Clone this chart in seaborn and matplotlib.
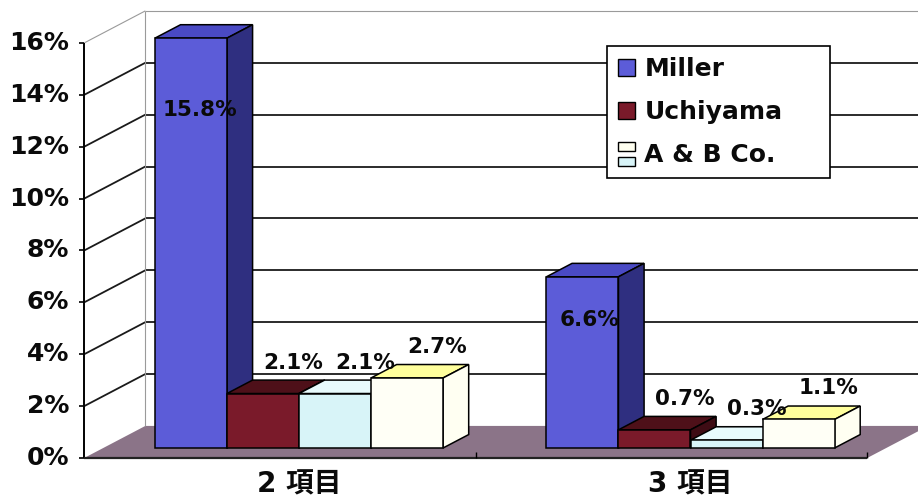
import matplotlib
matplotlib.use("Agg")
import matplotlib.pyplot as plt
import matplotlib.colors as mcolors
from matplotlib.patches import Polygon, Rectangle, Patch
from matplotlib.legend_handler import HandlerBase
import pandas as pd
import seaborn as sns

# ---- data -------------------------------------------------------------
categories = ["2 項目", "3 項目"]
series_names = ["Miller", "Uchiyama", "A & B Co. 1", "A & B Co. 2"]
miller = [15.8, 6.6]
uchiyama = [2.1, 0.7]
ab_co_1 = [2.1, 0.3]
ab_co_2 = [2.7, 1.1]
legend_labels = ["Miller", "Uchiyama", "A & B Co."]
y_ticks = [0, 2, 4, 6, 8, 10, 12, 14, 16]

# ---- styling ----------------------------------------------------------
front_colors = {"Miller": "#5c5cd8", "Uchiyama": "#7a1a2a",
                "A & B Co. 1": "#d8f4f8", "A & B Co. 2": "#fffff6"}
top_colors = {"Miller": "#4a4ac4", "Uchiyama": "#4e1019",
              "A & B Co. 1": "#e8fbfd", "A & B Co. 2": "#ffff9c"}
side_colors = {"Miller": "#2f2f80", "Uchiyama": "#3e0c14",
               "A & B Co. 1": "#c4e6ee", "A & B Co. 2": "#fffff2"}
floor_color = "#8b7488"
text_color = "#0a0a0a"

sns.set_style("white")
plt.rcParams["font.family"] = ["DejaVu Sans", "Noto Sans CJK JP"]

rows = []
for name, vals in zip(series_names, [miller, uchiyama, ab_co_1, ab_co_2]):
    for cat, v in zip(categories, vals):
        rows.append({"category": cat, "series": name, "value": v})
df = pd.DataFrame(rows)

W, H = 918, 501
fig = plt.figure(figsize=(W / 100, H / 100), dpi=100)
ax = fig.add_axes([0, 0, 1, 1])

sns.barplot(data=df, x="category", y="value", hue="series",
            hue_order=series_names, order=categories,
            palette=front_colors, width=0.736, saturation=1,
            edgecolor="black", linewidth=1.1, legend=False, ax=ax)

# pixel-aligned data window: one category = 391.5 px, 1 % = 25.94 px
PX_X, PX_Y = 391.5, 25.94
ax.set_xlim(-299 / PX_X, (W - 299) / PX_X)
ax.set_ylim((448 - H) / PX_Y, 448 / PX_Y)
ax.set_axis_off()

# oblique depth: bars' front plane at Z0, back wall at depth 1
Z0, ZB = 0.31, 0.42
DX, DY = 61 / PX_X, 32 / PX_Y


def proj(x, y, z):
    return (x + (z - Z0) * DX, y + (z - Z0) * DY)


def seg(p, q, **kw):
    ax.plot([p[0], q[0]], [p[1], q[1]], solid_capstyle="butt", **kw)


ymax = y_ticks[-1]
xl, xr = -0.5, 1.5

# floor
ax.add_patch(Polygon([proj(xl, 0, 0), proj(xr, 0, 0), proj(xr, 0, 1), proj(xl, 0, 1)],
                     closed=True, fc=floor_color, ec="none", zorder=2))

# walls: back gridlines, side wall diagonals
for v in y_ticks[1:]:
    top_edge = v == ymax
    kw = dict(color="#9a9a9a" if top_edge else "#1a1a1a",
              lw=0.8 if top_edge else 1.3, zorder=3)
    seg(proj(xl, v, 1), proj(xr + 0.2, v, 1), **kw)
    seg(proj(xl, v, 0), proj(xl, v, 1), **kw)
seg(proj(xl, 0, 1), proj(xl, ymax, 1), color="#9a9a9a", lw=0.8, zorder=3)

# front axes
seg(proj(xl, 0, 0), proj(xl, ymax, 0), color="black", lw=1.4, zorder=4)
seg(proj(xl, 0, 0), proj(xr, 0, 0), color="#222222", lw=1.6, zorder=4)
for v in y_ticks:
    p = proj(xl, v, 0)
    seg((p[0] - 5 / PX_X, p[1]), p, color="black", lw=1.2, zorder=4)
    ax.text(p[0] - 15 / PX_X, p[1], f"{v}%", ha="right", va="center",
            fontsize=18, fontweight="bold", color=text_color)
for xv in [0.5, 1.5]:
    p = proj(xv, 0, 0)
    seg(p, (p[0], p[1] + 6 / PX_Y), color="black", lw=1.0, zorder=4)

for i, cat in enumerate(categories):
    ax.text(i, (448 - 484) / PX_Y, cat, ha="center", va="center",
            fontsize=20, fontweight="bold", color=text_color,
            family=["DejaVu Sans", "Noto Sans CJK JP"])

# 3D faces for every bar drawn by seaborn
hex_to_series = {mcolors.to_hex(c): s for s, c in front_colors.items()}
bars = [p for p in ax.patches if isinstance(p, Rectangle)
        and mcolors.to_hex(p.get_facecolor()) in hex_to_series]
bars.sort(key=lambda p: p.get_x())
sx, sy = ZB * DX, ZB * DY
for r, b in enumerate(bars):
    s = hex_to_series[mcolors.to_hex(b.get_facecolor())]
    x0, w, h = b.get_x(), b.get_width(), b.get_height()
    x1 = x0 + w
    b.set_zorder(10 + 2 * r + 1)
    ax.add_patch(Polygon([(x0, h), (x1, h), (x1 + sx, h + sy), (x0 + sx, h + sy)],
                         closed=True, fc=top_colors[s], ec="black", lw=1.1,
                         zorder=10 + 2 * r))
    ax.add_patch(Polygon([(x1, 0), (x1, h), (x1 + sx, h + sy), (x1 + sx, sy)],
                         closed=True, fc=side_colors[s], ec="black", lw=1.1,
                         zorder=10 + 2 * r))

# value labels (Miller labels sit inside the tall bars)
label_px = {"Miller": [(9, -72), (7, -43)]}
for s, vals in zip(series_names, [miller, uchiyama, ab_co_1, ab_co_2]):
    k = series_names.index(s)
    for i, v in enumerate(vals):
        xc = i - 0.368 + 0.184 * (k + 0.5)
        off = label_px[s][i] if s in label_px else (30, 31)
        ax.annotate(f"{v:.1f}%", (xc, v), xytext=off, textcoords="offset pixels",
                    ha="center", va="center", fontsize=15.5, fontweight="bold",
                    color=text_color, zorder=60)


# legend: the last entry stacks two swatches
class StackedHandler(HandlerBase):
    def create_artists(self, legend, orig_handle, xdescent, ydescent,
                       width, height, fontsize, trans):
        upper, lower = orig_handle
        hh = height * 0.5
        r1 = Rectangle((-xdescent, -ydescent + height * 0.62), width, hh,
                       fc=upper.get_facecolor(), ec="black", lw=1.0, transform=trans)
        r2 = Rectangle((-xdescent, -ydescent - height * 0.25), width, hh,
                       fc=lower.get_facecolor(), ec="black", lw=1.0, transform=trans)
        return [r1, r2]


handles = [Patch(fc=front_colors["Miller"], ec="black", lw=1.0),
           Patch(fc=front_colors["Uchiyama"], ec="black", lw=1.0),
           (Patch(fc="#fffff0"), Patch(fc=front_colors["A & B Co. 1"]))]
leg = ax.legend(handles, legend_labels, handler_map={tuple: StackedHandler()},
                loc="upper left", mode="expand",
                bbox_to_anchor=(607 / W, 1 - 176 / H, 223 / W, 130 / H),
                bbox_transform=fig.transFigure, borderaxespad=0,
                prop={"family": "DejaVu Sans", "weight": "bold", "size": 18},
                handlelength=0.65, handleheight=0.7, handletextpad=0.4,
                borderpad=0.45, labelspacing=0.75, frameon=True, fancybox=False,
                framealpha=1, edgecolor="black")
for t in leg.get_texts():
    t.set_color(text_color)
leg.get_frame().set_linewidth(1.2)
leg.set_zorder(100)

fig.savefig("out.png", dpi=100, facecolor="white")
